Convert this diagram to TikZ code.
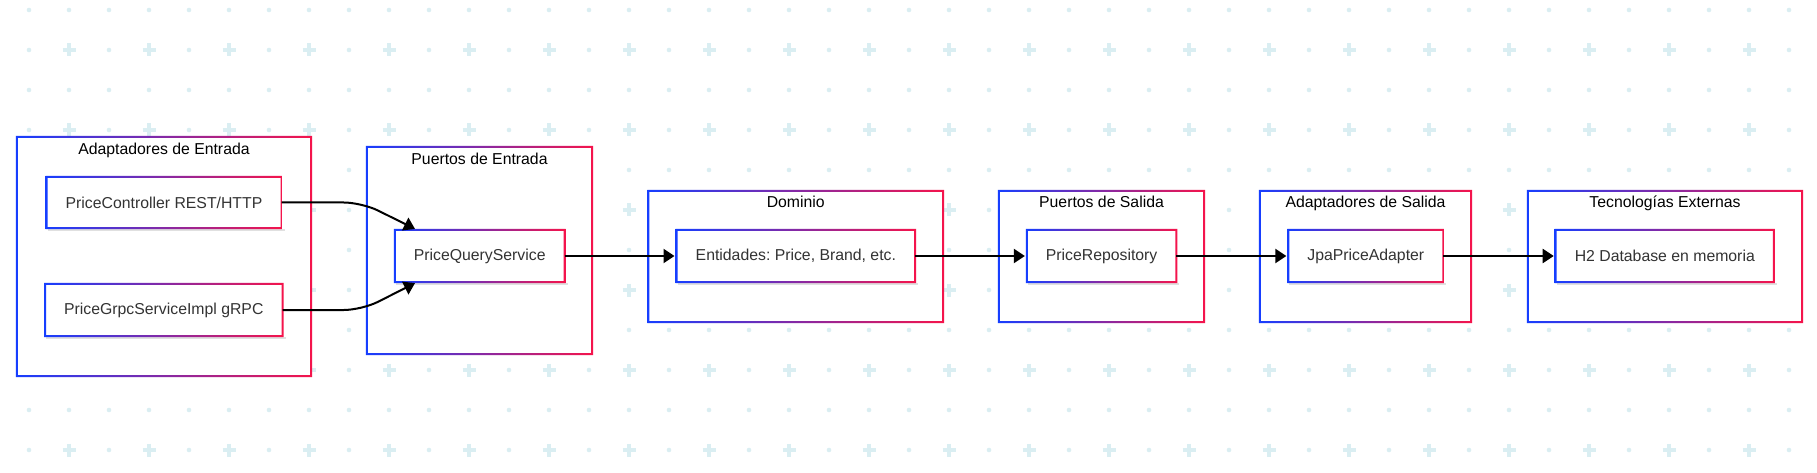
\documentclass[tikz,border=0pt]{standalone}
\usepackage{fontspec}
\setmainfont{Liberation Sans}
\frenchspacing
\usetikzlibrary{arrows.meta}
\definecolor{gblue}{RGB}{22,62,255}
\definecolor{gred}{RGB}{245,20,75}
\definecolor{bgc}{RGB}{218,238,242}
\definecolor{txt}{RGB}{51,51,51}
\tikzset{
  box/.style={draw=none, fill=white, inner sep=0pt},
  ttl/.style={anchor=base, inner sep=0pt, text=black},
  arr/.style={line width=2pt, -{Triangle[length=11pt,width=14pt]}, black, shorten >=2pt},
}
\newcommand\gframe[1]{%
  \path[even odd rule, left color=gblue, right color=gred]
    ([shift={(-1pt,1pt)}]#1.north west) rectangle ([shift={(1pt,-1pt)}]#1.south east)
    ([shift={(1pt,-1pt)}]#1.north west) rectangle ([shift={(-1pt,1pt)}]#1.south east);}
\newcommand\gshadow[1]{%
  \fill[black, opacity=0.12] ([shift={(1pt,-3pt)}]#1.south west) rectangle ([shift={(3pt,-1pt)}]#1.south east);}
\begin{document}
\begin{tikzpicture}[x=1pt,y=-1pt,font=\fontsize{15.8}{18}\selectfont]
\useasboundingbox[fill=white] (0,0) rectangle (1817,473);
% background pattern
\foreach \k in {0,...,44}{\foreach \j in {0,...,11}{%
  \pgfmathtruncatemacro\xx{29+40*\k}\pgfmathtruncatemacro\yy{10+40*\j}%
  \ifodd\k \ifodd\j
    \draw[bgc, line width=3.6pt] ({\xx-6.5},\yy) -- ({\xx+6.5},\yy) (\xx,{\yy-6.5}) -- (\xx,{\yy+6.5});
  \else \fill[bgc] (\xx,\yy) circle (2.3pt); \fi
  \else \fill[bgc] (\xx,\yy) circle (2.3pt); \fi
}}
% containers
\node[box, minimum width=294pt, minimum height=239pt] (ae) at (164,256.5) {};
\node[box, minimum width=225pt, minimum height=207pt] (pe) at (479.5,250.5) {};
\node[box, minimum width=294.5pt, minimum height=131pt] (dom) at (795.75,256.5) {};
\node[box, minimum width=205pt, minimum height=131pt] (ps) at (1101.5,256.5) {};
\node[box, minimum width=211pt, minimum height=131pt] (as) at (1365.5,256.5) {};
\node[box, minimum width=274pt, minimum height=131pt] (te) at (1665,256.5) {};
\foreach \n in {ae,pe,dom,ps,as,te}{\gframe{\n}}
\node[ttl] (aet) at ([yshift=-17.5pt]ae.north) {Adaptadores de Entrada};
\node[ttl] (pet) at ([yshift=-17.5pt]pe.north) {Puertos de Entrada};
\node[ttl] (domt) at ([yshift=-17pt]dom.north) {Dominio};
\node[ttl] (pst) at ([yshift=-17pt]ps.north) {Puertos de Salida};
\node[ttl] (ast) at ([yshift=-17pt]as.north) {Adaptadores de Salida};
\node[ttl] (tet) at ([yshift=-17pt]te.north) {Tecnologías Externas};
% inner nodes
\node[box, text=txt, minimum width=234.6pt, minimum height=51pt] (pc) at (164,202.5) {PriceController REST/HTTP};
\node[box, text=txt, minimum width=237pt, minimum height=52pt] (pg) at (163.8,310) {PriceGrpcServiceImpl gRPC};
\node[box, text=txt, minimum width=169.4pt, minimum height=52pt] (pqs) at (479.7,256) {PriceQueryService};
\node[box, text=txt, minimum width=238.3pt, minimum height=52pt] (ent) at (795.85,256) {Entidades: Price, Brand, etc.};
\node[box, text=txt, minimum width=149pt, minimum height=52pt] (pr) at (1101.6,256) {PriceRepository};
\node[box, text=txt, minimum width=154.5pt, minimum height=52pt] (jpa) at (1365.8,256) {JpaPriceAdapter};
\node[box, text=txt, minimum width=217.8pt, minimum height=52pt] (h2) at (1664.8,256) {H2 Database en memoria};
\foreach \n in {pc,pg,pqs,ent,pr,jpa,h2}{\gshadow{\n}\gframe{\n}}
% connectors
\draw[arr, rounded corners=18pt] (pc.east) -- ([xshift=-33pt]pqs.north west |- pc.east) -- ([xshift=22pt]pqs.north west);
\draw[arr, rounded corners=18pt] (pg.east) -- ([xshift=-33pt]pqs.south west |- pg.east) -- ([xshift=22pt]pqs.south west);
\draw[arr] (pqs.east) -- (ent.west);
\draw[arr] (ent.east) -- (pr.west);
\draw[arr] (pr.east) -- (jpa.west);
\draw[arr] (jpa.east) -- (h2.west);
\end{tikzpicture}
\end{document}
